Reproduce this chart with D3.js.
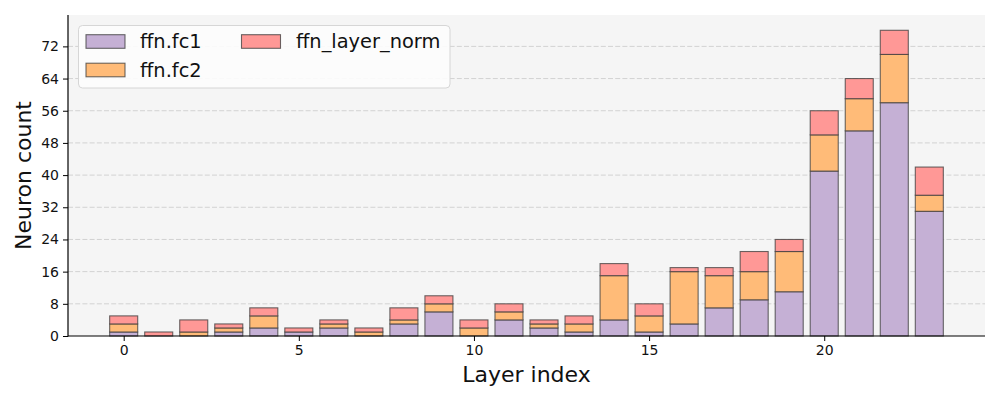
<!DOCTYPE html>
<html>
<head>
<meta charset="utf-8">
<script src="https://cdn.jsdelivr.net/npm/d3@7"></script>
<style>
  body { margin: 0; background: #fff; }
  svg { display: block; font-family: "DejaVu Sans", sans-serif; }
  .tick text { font-size: 14px; font-family: "DejaVu Sans", sans-serif; }
</style>
</head>
<body>
<svg id="chart" width="1000" height="400"></svg>
<script>
const layers = d3.range(24);
const fc1 = [1,0,0,1,2,1,2,0,3,6,0,4,2,1,4,1,3,7,9,11,41,51,58,31];
const fc2 = [2,0,1,1,3,0,1,1,1,2,2,2,1,2,11,4,13,8,7,10,9,8,12,4];
const layerNorm = [2,1,3,1,2,1,1,1,3,2,2,2,1,2,3,3,1,2,5,3,6,5,6,7];
const seriesNames = ["ffn.fc1", "ffn.fc2", "ffn_layer_norm"];
const seriesColors = ["#c5b0d5", "#ffbb78", "#ff9896"];
const yTicks = [0,8,16,24,32,40,48,56,64,72];
const xTicks = [0,5,10,15,20];

const svg = d3.select("#chart");
const m = {left: 68, top: 15, right: 985, bottom: 336};

const x = d3.scaleLinear().domain([-1.59, 24.59]).range([m.left, m.right]);
const y = d3.scaleLinear().domain([0, 79.8]).range([m.bottom, m.top]);

svg.append("rect").attr("x", m.left).attr("y", m.top)
  .attr("width", m.right - m.left).attr("height", m.bottom - m.top)
  .attr("fill", "#f5f5f5");

// grid
svg.append("g").selectAll("line").data(yTicks.filter(d => d > 0)).join("line")
  .attr("x1", m.left).attr("x2", m.right)
  .attr("y1", d => y(d)).attr("y2", d => y(d))
  .attr("stroke", "#d2d2d2").attr("stroke-width", 1)
  .attr("stroke-dasharray", "5,2.2");

const data = layers.map((l, i) => ({layer: l, fc1: fc1[i], fc2: fc2[i], ln: layerNorm[i]}));
const stack = d3.stack().keys(["fc1", "fc2", "ln"])(data);
const bw = x(0.4) - x(-0.4);

stack.forEach((s, si) => {
  svg.append("g").selectAll("rect").data(s.filter(d => d[1] - d[0] > 0)).join("rect")
    .attr("x", d => x(d.data.layer) - bw / 2)
    .attr("width", bw)
    .attr("y", d => y(d[1]))
    .attr("height", d => y(d[0]) - y(d[1]))
    .attr("fill", seriesColors[si])
    .attr("stroke", "#3a3a3a").attr("stroke-opacity", 0.75).attr("stroke-width", 1.1);
});

// axes
const yAxis = d3.axisLeft(y).tickValues(yTicks).tickSize(5).tickPadding(4);
const gy = svg.append("g").attr("transform", `translate(${m.left},0)`).call(yAxis);
const xAxis = d3.axisBottom(x).tickValues(xTicks).tickSize(5).tickPadding(4);
const gx = svg.append("g").attr("transform", `translate(0,${m.bottom})`).call(xAxis);
[gy, gx].forEach(g => {
  g.attr("font-size", 14).attr("font-family", "DejaVu Sans");
  g.select(".domain").remove();
  g.selectAll("text").attr("fill", "#111");
  g.selectAll("line").attr("stroke", "#000").attr("stroke-width", 1);
});
svg.append("line").attr("x1", m.left).attr("x2", m.left).attr("y1", m.top).attr("y2", m.bottom + 0.5)
  .attr("stroke", "#000").attr("stroke-width", 1.2);
svg.append("line").attr("x1", m.left).attr("x2", m.right).attr("y1", m.bottom).attr("y2", m.bottom)
  .attr("stroke", "#000").attr("stroke-width", 1.2);

// axis labels
svg.append("text").attr("x", (m.left + m.right) / 2).attr("y", 382)
  .attr("text-anchor", "middle").attr("font-size", "22px").attr("fill", "#111")
  .text("Layer index");
svg.append("text").attr("transform", `translate(31,${(m.top + m.bottom) / 2}) rotate(-90)`)
  .attr("text-anchor", "middle").attr("font-size", "22px").attr("fill", "#111")
  .text("Neuron count");

// legend
const lg = svg.append("g");
lg.append("rect").attr("x", 78.5).attr("y", 25.5).attr("width", 371.5).attr("height", 62.5)
  .attr("rx", 4).attr("fill", "#fdfdfd").attr("fill-opacity", 0.9)
  .attr("stroke", "#d6d6d6").attr("stroke-width", 1);
const legPos = [{hx: 86, tx: 140, cy: 41.5}, {hx: 86, tx: 140, cy: 70}, {hx: 241.5, tx: 296, cy: 41.5}];
seriesNames.forEach((n, i) => {
  const p = legPos[i];
  lg.append("rect").attr("x", p.hx).attr("y", p.cy - 6.8).attr("width", 39).attr("height", 13.6)
    .attr("fill", seriesColors[i]).attr("stroke", "#3a3a3a").attr("stroke-opacity", 0.75).attr("stroke-width", 1.1);
  lg.append("text").attr("x", p.tx).attr("y", p.cy).attr("dy", "0.35em")
    .attr("font-size", "19.4px").attr("fill", "#111").text(n);
});
</script>
</body>
</html>
